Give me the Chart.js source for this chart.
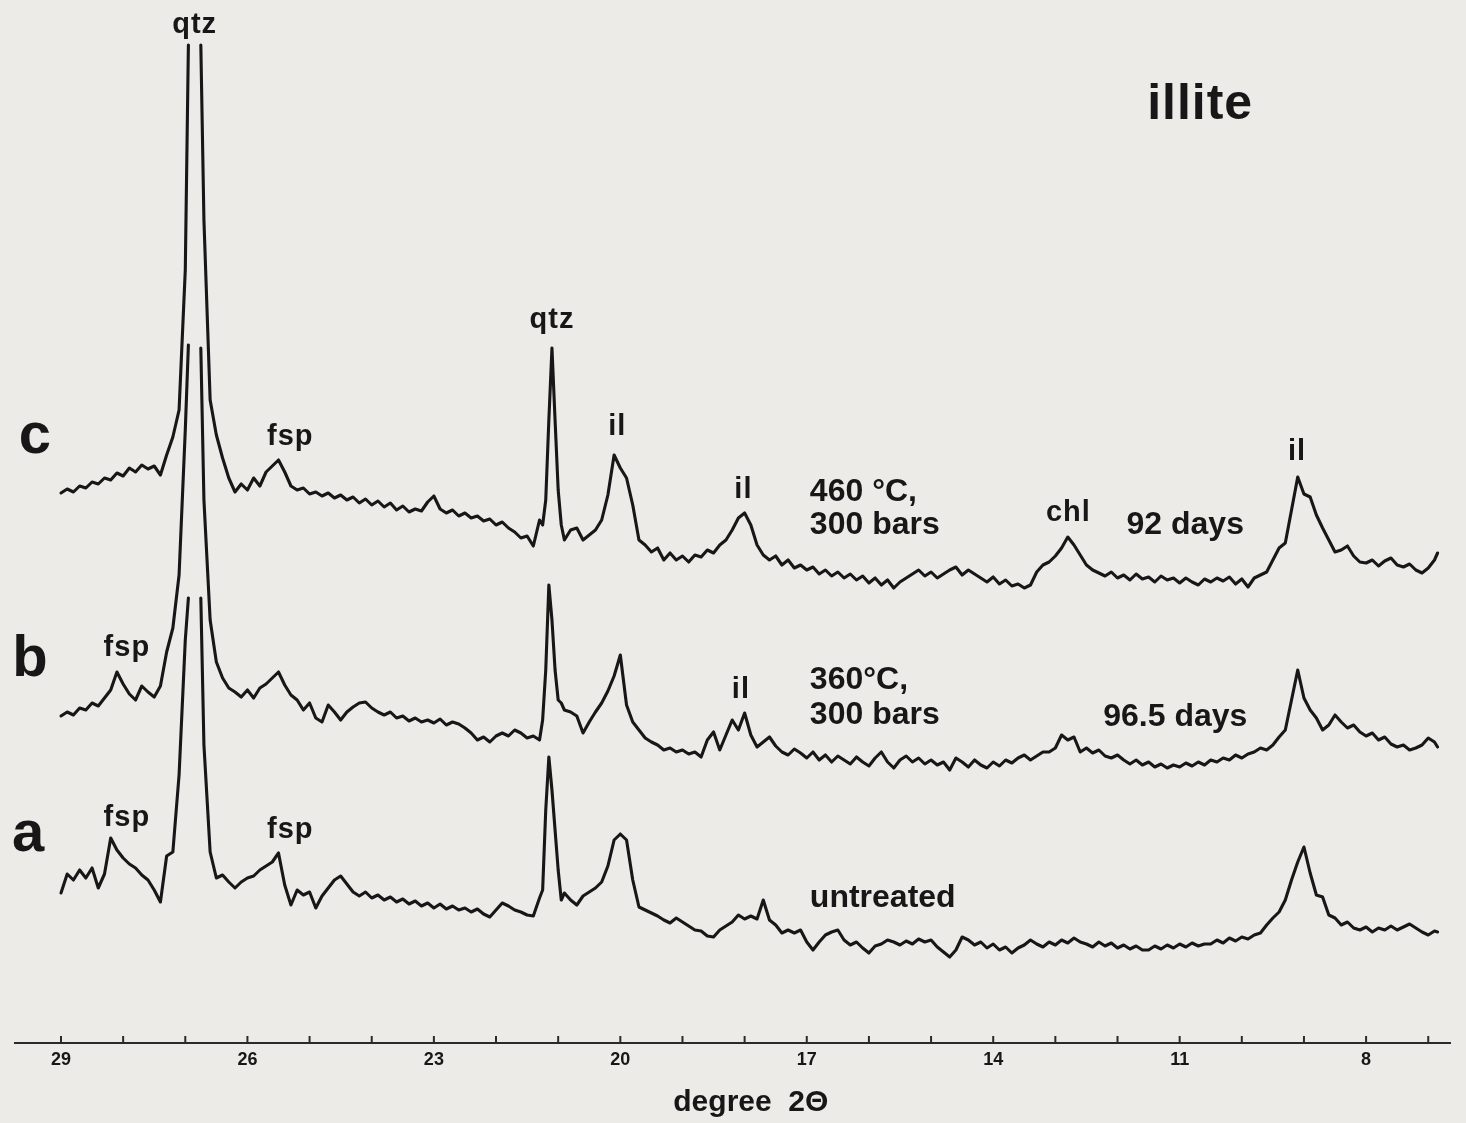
<!DOCTYPE html>
<html>
<head>
<meta charset="utf-8">
<title>illite</title>
<script src="https://cdn.jsdelivr.net/npm/chart.js@4.4.1/dist/chart.umd.min.js"></script>
<style>
  html, body { margin: 0; padding: 0; background: #ecebe8; }
  #wrap { width: 1466px; height: 1123px; }
</style>
</head>
<body>
<div id="wrap"><canvas id="xrd" width="1466" height="1123"></canvas></div>
<script>
// degree 2-theta (left to right, axis runs downward)
const twoTheta = [
  29.0, 28.9, 28.8, 28.7, 28.6, 28.5, 28.4, 28.3, 28.2, 28.1,
  28.0, 27.9, 27.8, 27.7, 27.6, 27.5, 27.4, 27.3, 27.2, 27.1,
  27.0, 26.95, 26.85, 26.75, 26.7, 26.6, 26.5, 26.4, 26.3, 26.2,
  26.1, 26.0, 25.9, 25.8, 25.7, 25.6, 25.5, 25.4, 25.3, 25.2,
  25.1, 25.0, 24.9, 24.8, 24.7, 24.6, 24.5, 24.4, 24.3, 24.2,
  24.1, 24.0, 23.9, 23.8, 23.7, 23.6, 23.5, 23.4, 23.3, 23.2,
  23.1, 23.0, 22.9, 22.8, 22.7, 22.6, 22.5, 22.4, 22.3, 22.2,
  22.1, 22.0, 21.9, 21.8, 21.7, 21.6, 21.5, 21.4, 21.3, 21.25,
  21.2, 21.15, 21.1, 21.05, 21.0, 20.95, 20.9, 20.8, 20.7, 20.6,
  20.5, 20.4, 20.3, 20.2, 20.1, 20.0, 19.9, 19.8, 19.7, 19.6,
  19.5, 19.4, 19.3, 19.2, 19.1, 19.0, 18.9, 18.8, 18.7, 18.6,
  18.5, 18.4, 18.3, 18.2, 18.1, 18.0, 17.9, 17.8, 17.7, 17.6,
  17.5, 17.4, 17.3, 17.2, 17.1, 17.0, 16.9, 16.8, 16.7, 16.6,
  16.5, 16.4, 16.3, 16.2, 16.1, 16.0, 15.9, 15.8, 15.7, 15.6,
  15.5, 15.4, 15.3, 15.2, 15.1, 15.0, 14.9, 14.8, 14.7, 14.6,
  14.5, 14.4, 14.3, 14.2, 14.1, 14.0, 13.9, 13.8, 13.7, 13.6,
  13.5, 13.4, 13.3, 13.2, 13.1, 13.0, 12.9, 12.8, 12.7, 12.6,
  12.5, 12.4, 12.3, 12.2, 12.1, 12.0, 11.9, 11.8, 11.7, 11.6,
  11.5, 11.4, 11.3, 11.2, 11.1, 11.0, 10.9, 10.8, 10.7, 10.6,
  10.5, 10.4, 10.3, 10.2, 10.1, 10.0, 9.9, 9.8, 9.7, 9.6,
  9.5, 9.4, 9.3, 9.2, 9.1, 9.0, 8.9, 8.8, 8.7, 8.6,
  8.5, 8.4, 8.3, 8.2, 8.1, 8.0, 7.9, 7.8, 7.7, 7.6,
  7.5, 7.4, 7.3, 7.2, 7.1, 7.0, 6.9, 6.85
]

// intensities incl. the vertical offset of each trace; null = pen off scale (qtz peak)
// c: 460 °C, 300 bars, 92 days
const traceC = [
  550, 554, 551, 557, 555, 561, 559, 565, 563, 570,
  567, 575, 571, 578, 574, 577, 568, 588, 606, 633,
  773, 998, null, 998, 823, 643, 608, 585, 565, 551,
  559, 553, 565, 557, 571, 577, 583, 571, 557, 553,
  555, 549, 551, 547, 550, 545, 548, 543, 546, 540,
  544, 538, 542, 536, 540, 533, 537, 531, 534, 532,
  541, 547, 534, 530, 533, 527, 530, 525, 527, 522,
  524, 518, 521, 515, 511, 505, 507, 497, 523, 518,
  543, 623, 695, 623, 553, 518, 503, 513, 515, 503,
  508, 513, 523, 548, 588, 575, 565, 538, 503, 498,
  491, 495, 483, 490, 483, 487, 481, 488, 486, 493,
  490, 498, 503, 513, 525, 530, 518, 498, 488, 483,
  487, 478, 483, 475, 478, 473, 476, 469, 473, 467,
  471, 465, 469, 463, 467, 460, 465, 458, 463, 455,
  461, 465, 469, 473, 467, 471, 465, 469, 473, 476,
  468, 473, 469, 465, 461, 466, 459, 463, 457, 459,
  455, 458, 471, 478, 481, 487, 495, 506, 498, 488,
  478, 473, 470, 467, 471, 465, 468, 463, 469, 464,
  466, 461, 467, 463, 465, 460, 465, 461, 458, 464,
  461, 465, 462, 466, 459, 464, 456, 465, 468, 471,
  483, 495, 500, 533, 566, 549, 546, 528, 515, 503,
  491, 493, 497, 487, 481, 480, 483, 477, 482, 485,
  478, 476, 479, 473, 470, 475, 483, 490
]

// b: 360 °C, 300 bars, 96.5 days
const traceB = [
  327, 331, 328, 335, 333, 340, 337, 345, 353, 371,
  359, 349, 343, 357, 351, 346, 357, 391, 415, 468,
  613, 698, null, 695, 543, 423, 381, 365, 355, 351,
  346, 353, 345, 355, 359, 365, 371, 358, 348, 343,
  333, 340, 325, 321, 338, 331, 323, 331, 336, 340,
  341, 335, 331, 328, 331, 325, 327, 322, 325, 321,
  323, 320, 324, 318, 321, 319, 315, 310, 303, 306,
  301, 307, 310, 307, 313, 310, 305, 307, 303, 323,
  373, 458, 423, 373, 343, 340, 333, 331, 327, 310,
  321, 331, 340, 352, 367, 388, 338, 321, 313, 305,
  301, 298, 293, 295, 291, 293, 289, 291, 286, 303,
  311, 293, 308, 323, 313, 330, 308, 296, 301, 306,
  297, 291, 288, 294, 290, 285, 291, 283, 288, 281,
  287, 283, 279, 286, 281, 277, 285, 291, 281, 275,
  283, 287, 281, 285, 279, 283, 278, 281, 273, 285,
  281, 276, 283, 278, 275, 281, 277, 283, 280, 285,
  288, 283, 287, 291, 291, 295, 308, 303, 306, 291,
  295, 290, 293, 287, 285, 288, 283, 279, 283, 278,
  281, 276, 279, 275, 278, 276, 280, 277, 281, 278,
  283, 281, 285, 283, 288, 285, 289, 291, 295, 293,
  298, 306, 313, 343, 373, 345, 333, 325, 313, 318,
  328, 321, 315, 318, 311, 307, 310, 303, 306, 299,
  296, 298, 293, 295, 298, 305, 301, 296
]

// a: untreated
const traceA = [
  150, 169, 163, 173, 165, 175, 155, 169, 205, 193,
  185, 179, 175, 168, 163, 153, 141, 187, 191, 268,
  403, 445, null, 445, 298, 191, 165, 168, 161, 155,
  161, 165, 167, 173, 177, 181, 190, 158, 138, 153,
  148, 151, 135, 147, 155, 163, 167, 159, 151, 147,
  151, 145, 148, 143, 146, 141, 144, 139, 142, 137,
  140, 135, 139, 134, 137, 133, 135, 131, 134, 129,
  126, 133, 140, 137, 133, 131, 128, 127, 145, 153,
  233, 286, 253, 213, 173, 143, 150, 143, 138, 147,
  151, 155, 161, 177, 203, 209, 203, 163, 136, 133,
  130, 127, 123, 120, 125, 121, 117, 113, 112, 107,
  106, 113, 117, 121, 128, 124, 127, 124, 143, 123,
  118, 110, 113, 110, 113, 101, 93, 101, 108, 111,
  113, 103, 98, 101, 95, 90, 97, 99, 103, 101,
  98, 102, 99, 104, 101, 103, 96, 91, 86, 93,
  106, 103, 98, 101, 95, 99, 93, 96, 90, 95,
  98, 103, 99, 96, 101, 98, 103, 100, 105, 101,
  99, 96, 101, 97, 100, 95, 98, 94, 97, 93,
  93, 97, 94, 98, 95, 99, 96, 100, 97, 99,
  99, 103, 100, 105, 102, 106, 104, 108, 110, 118,
  125, 131, 143, 163, 181, 196, 170, 148, 146, 128,
  125, 118, 121, 115, 113, 116, 111, 115, 113, 117,
  113, 116, 119, 115, 111, 108, 112, 111
]

const tickLabels = [29, 26, 23, 20, 17, 14, 11, 8]

// text on the plot: [text, degree 2θ, intensity, kind]
const notes = [
  ['qtz', 26.85, 1018, 'peak'],
  ['illite', 10.67, 938, 'title'],
  ['c', 29.42, 606, 'trace'],
  ['b', 29.5, 383, 'trace'],
  ['a', 29.53, 208, 'trace'],
  ['fsp', 25.31, 606, 'peak'],
  ['qtz', 21.1, 723, 'peak'],
  ['il', 20.05, 616, 'peak'],
  ['il', 18.02, 553, 'peak'],
  ['chl', 12.79, 530, 'peak'],
  ['il', 9.11, 591, 'peak'],
  ['fsp', 27.94, 395, 'peak'],
  ['il', 18.06, 353, 'peak'],
  ['fsp', 27.94, 225, 'peak'],
  ['fsp', 25.31, 213, 'peak'],
  ['460 °C,', 16.95, 551, 'cond'],
  ['300 bars', 16.95, 518, 'cond'],
  ['92 days', 10.91, 518, 'condc'],
  ['360°C,', 16.95, 363, 'cond'],
  ['300 bars', 16.95, 328, 'cond'],
  ['96.5 days', 11.07, 326, 'condc'],
  ['untreated', 16.95, 145, 'cond']
]

const FONT = '"Liberation Sans", Arial, Helvetica, sans-serif'
const INK = '#171717'
const noteStyle = {
  peak: { size: 29, align: 'center', spacing: '1px' },
  title: { size: 50, align: 'center', spacing: '1px' },
  trace: { size: 58, align: 'center', spacing: '0px' },
  cond: { size: 32, align: 'left', spacing: '0px' },
  condc: { size: 32, align: 'center', spacing: '0px' }
}

function toPoints(values) {
  return twoTheta.map((x, i) => ({ x: x, y: values[i] }))
}

const paper = {
  id: 'paper',
  beforeDraw(chart) {
    const ctx = chart.ctx
    ctx.save()
    ctx.fillStyle = '#ecebe8'
    ctx.fillRect(0, 0, chart.width, chart.height)
    ctx.restore()
  }
}

const axisMarks = {
  id: 'axisMarks',
  afterDraw(chart) {
    const ctx = chart.ctx
    const xs = chart.scales.x
    const base = chart.chartArea.bottom
    ctx.save()
    ctx.strokeStyle = '#2a2a2a'
    ctx.lineWidth = 2
    for (let d = Math.ceil(xs.min); d <= Math.floor(xs.max); d++) {
      const px = xs.getPixelForValue(d)
      ctx.beginPath()
      ctx.moveTo(px, base)
      ctx.lineTo(px, base - 7)
      ctx.stroke()
    }
    ctx.fillStyle = INK
    ctx.font = 'bold 30px ' + FONT
    ctx.textAlign = 'center'
    ctx.textBaseline = 'middle'
    ctx.fillText('degree  2\u0398', xs.getPixelForValue(17.9), base + 60)
    ctx.restore()
  }
}

const peakNotes = {
  id: 'peakNotes',
  afterDatasetsDraw(chart) {
    const ctx = chart.ctx
    const xs = chart.scales.x
    const ys = chart.scales.y
    ctx.save()
    ctx.fillStyle = INK
    ctx.textBaseline = 'middle'
    notes.forEach(([text, deg, val, kind]) => {
      const st = noteStyle[kind]
      ctx.font = 'bold ' + st.size + 'px ' + FONT
      ctx.letterSpacing = st.spacing
      ctx.textAlign = st.align
      ctx.fillText(text, xs.getPixelForValue(deg), ys.getPixelForValue(val))
    })
    ctx.restore()
  }
}

const lineStyle = {
  borderColor: INK,
  borderWidth: 3.1,
  borderJoinStyle: 'round',
  borderCapStyle: 'round',
  pointRadius: 0,
  tension: 0,
  spanGaps: false
}

new Chart(document.querySelector('#xrd'), {
  type: 'line',
  data: {
    datasets: [
      { label: 'c', data: toPoints(traceC), ...lineStyle },
      { label: 'b', data: toPoints(traceB), ...lineStyle },
      { label: 'a', data: toPoints(traceA), ...lineStyle }
    ]
  },
  options: {
    responsive: false,
    animation: false,
    devicePixelRatio: 1,
    layout: { padding: { left: 15, right: 16, top: 0, bottom: 0 } },
    plugins: {
      legend: { display: false },
      tooltip: { enabled: false }
    },
    scales: {
      x: {
        type: 'linear',
        reverse: true,
        min: 6.65,
        max: 29.74,
        grid: { display: false, drawTicks: false },
        border: { display: true, color: '#2a2a2a', width: 2 },
        afterBuildTicks: (scale) => {
          scale.ticks = tickLabels.map(v => ({ value: v }))
        },
        afterFit: (scale) => { scale.height = 80 },
        ticks: {
          autoSkip: false,
          maxRotation: 0,
          padding: 6,
          color: INK,
          font: { family: FONT, size: 18, weight: 'bold' }
        }
      },
      y: {
        display: false,
        min: 0,
        max: 1043
      }
    }
  },
  plugins: [paper, axisMarks, peakNotes]
})
</script>
</body>
</html>
